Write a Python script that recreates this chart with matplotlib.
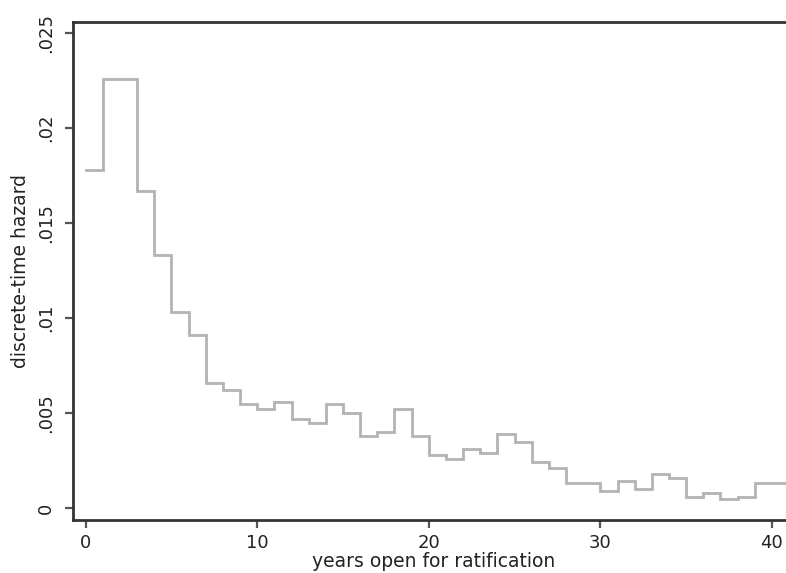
import matplotlib
matplotlib.use("Agg")
import matplotlib.pyplot as plt

plt.rcParams['font.family'] = ['DejaVu Sans']

# discrete-time hazard by years the treaty has been open
years = list(range(0, 42))
hazard = [0.0178, 0.0226, 0.0226, 0.0167, 0.0133, 0.0103, 0.0091, 0.0066,
          0.0062, 0.0055, 0.0052, 0.0056, 0.0047, 0.0045, 0.0055, 0.0050,
          0.0038, 0.0040, 0.0052, 0.0038, 0.0028, 0.0026, 0.0031, 0.0029,
          0.0039, 0.0035, 0.0024, 0.0021, 0.0013, 0.0013, 0.0009, 0.0014,
          0.0010, 0.0018, 0.0016, 0.0006, 0.0008, 0.0005, 0.0006, 0.0013,
          0.0013, 0.0014]

yticks = [0, 0.005, 0.01, 0.015, 0.02, 0.025]
ytick_labels = ['0', '.005', '.01', '.015', '.02', '.025']
xticks = [0, 10, 20, 30, 40]

fig = plt.figure(figsize=(7.86, 5.73), dpi=100)
ax = fig.add_axes([73 / 786, 1 - 520 / 573, 1 - 73 / 786 + 0.01, (520 - 22) / 573])

ax.step(years + [42], hazard + [hazard[-1]], where='post',
        color='#b3b3b3', lw=2.0, solid_joinstyle='miter')

ax.set_xlim(-0.74, 41.28)
ax.set_ylim(-0.00063, 0.02558)

ax.set_xticks(xticks)
ax.set_yticks(yticks)
ax.set_yticklabels(ytick_labels)

for side in ['left', 'bottom', 'top']:
    ax.spines[side].set_color('#333333')
    ax.spines[side].set_linewidth(2.0)
ax.spines['right'].set_visible(False)

ax.tick_params(axis='both', colors='#555555', width=1.6, length=6,
               labelsize=13, labelcolor='#222222')
ax.tick_params(axis='y', labelrotation=90, pad=7)
ax.tick_params(axis='x', pad=4)
for lab in ax.get_yticklabels():
    lab.set_va('center')

ax.set_xlabel('years open for ratification', fontsize=13.5, color='#222222', labelpad=0)
ax.set_ylabel('discrete-time hazard', fontsize=13.5, color='#222222')
ax.yaxis.set_label_coords(-0.060, 0.5)

fig.savefig('out.png', dpi=100)
